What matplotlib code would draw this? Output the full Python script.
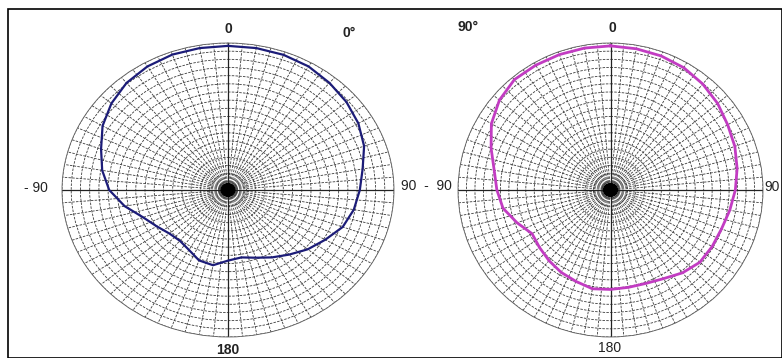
import numpy as np
import matplotlib.pyplot as plt
from matplotlib.patches import Rectangle, Ellipse

# pattern cuts, angle in degrees (0 = up, clockwise), relative field
angles = list(range(0, 360, 10))
left_r = [1.0, 1.0, 0.998, 0.99, 0.97, 0.95, 0.925, 0.89, 0.84, 0.81, 0.785, 0.75,
          0.69, 0.64, 0.585, 0.54, 0.50, 0.475, 0.49, 0.53, 0.52, 0.48, 0.46, 0.47,
          0.505, 0.555, 0.645, 0.73, 0.785, 0.83, 0.89, 0.935, 0.97, 0.99, 1.0, 1.0]
right_r = [1.0, 0.995, 0.99, 0.98, 0.96, 0.935, 0.905, 0.885, 0.86, 0.835, 0.81, 0.79,
           0.785, 0.78, 0.75, 0.71, 0.69, 0.686, 0.69, 0.696, 0.675, 0.66, 0.64, 0.62,
           0.606, 0.665, 0.73, 0.76, 0.79, 0.85, 0.92, 0.97, 1.0, 1.0, 1.0, 1.0]

W, H = 782, 358
fig = plt.figure(figsize=(W / 100, H / 100), dpi=100)
fig.patches.append(Rectangle((8 / W, 0), 1 - 8 / W, 1 - 9 / H, transform=fig.transFigure,
                             fill=False, edgecolor="black", linewidth=1.2))


def polar_panel(rect, r, color, lw):
    ax = fig.add_axes(rect, projection="polar")
    ax.set_aspect("auto")
    ax.set_theta_zero_location("N")
    ax.set_theta_direction(-1)
    ax.set_rlim(0, 1.02)
    ax.set_xticks(np.deg2rad(np.arange(0, 360, 5)))
    ax.set_yticks(np.linspace(0, 1.02, 19)[1:])
    ax.set_xticklabels([])
    ax.set_yticklabels([])
    ax.grid(True, color="#3c3c3c", linestyle=(0, (3, 1.5)), linewidth=0.6)
    ax.spines["polar"].set_color("#606060")
    ax.spines["polar"].set_linewidth(0.6)
    ax.set_facecolor("none")
    for a in (0, 90, 180, 270):
        ax.plot([np.deg2rad(a)] * 2, [0, 1.02], color="#222222", lw=0.9)
    # dark blob where the radial lines meet
    ax.add_patch(Ellipse((0.5, 0.5), 14 / (rect[2] * W), 13 / (rect[3] * H),
                         transform=ax.transAxes, color="black", zorder=3))
    th = np.deg2rad(angles + [angles[0]])
    ax.plot(th, list(r) + [r[0]], color=color, lw=lw, zorder=4)
    return ax


polar_panel([62 / W, 21 / H, 332 / W, 294 / H], left_r, "#1c1c78", 1.6)
polar_panel([458 / W, 21 / H, 305 / W, 294 / H], right_r, "#c23cc2", 2.0)

fs = dict(fontsize=10, fontweight="bold", color="#222222", ha="center", va="center",
          family="Liberation Sans")


def label(x, y, s, **kw):
    d = dict(fs)
    d.update(kw)
    fig.text(x / W, 1 - y / H, s, **d)


label(228, 29, "0")
label(349, 33, "0°")
label(36, 188, "- 90", fontweight="normal")
label(426, 186, "90  -  90", fontweight="normal")
label(228, 350, "180")
label(468, 27, "90°")
label(612, 28, "0")
label(780, 187, "90", ha="right", fontweight="normal")
label(610, 348, "180", fontweight="normal")

fig.savefig("out.png", dpi=100, facecolor="white")
